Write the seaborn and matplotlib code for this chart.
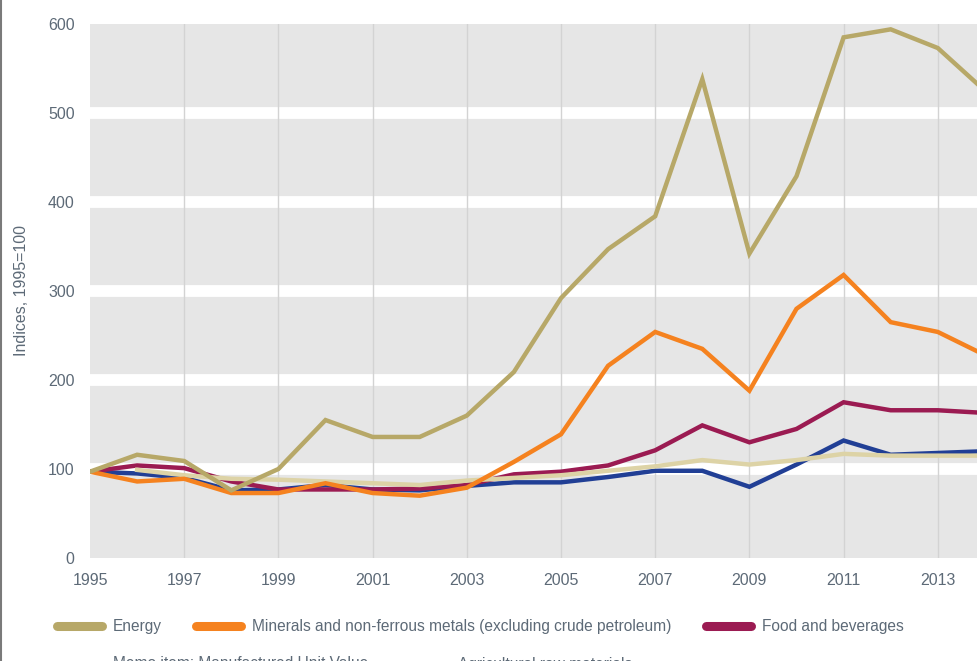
import numpy as np
import pandas as pd
import matplotlib
matplotlib.use("Agg")
import matplotlib.pyplot as plt
from matplotlib.lines import Line2D
import seaborn as sns

# Data (indices, 1995=100)
years = list(range(1995, 2015))
energy = [97, 116, 109, 76, 100, 155, 136, 136, 160, 209, 292, 347, 384, 538, 342, 429, 585, 594, 573, 525]
minerals = [97, 86, 89, 73, 73, 84, 73, 70, 79, 108, 139, 216, 254, 235, 188, 280, 318, 265, 254, 228]
food = [97, 104, 101, 86, 77, 77, 77, 78, 82, 94, 97, 104, 121, 149, 130, 145, 175, 166, 166, 163]
years_memo = list(range(1996, 2015))
memo = [99, 93, 89, 88, 86, 84, 82, 87, 90, 93, 98, 103, 110, 105, 110, 117, 115, 115, 115]
agri = [97, 95, 90, 76, 77, 82, 77, 76, 81, 85, 85, 91, 98, 98, 80, 105, 132, 116, 118, 120]

labels = ["Energy",
          "Minerals and non-ferrous metals (excluding crude petroleum)",
          "Food and beverages",
          "Memo item: Manufactured Unit Value",
          "Agricultural raw materials"]
colors = ["#b7a868", "#f5821f", "#9b1b52", "#ddd3a6", "#213f95"]

txt = "#5d6a77"
plt.rcParams["font.family"] = ["Liberation Sans", "DejaVu Sans"]

fig = plt.figure(figsize=(9.77, 6.61), dpi=100)
ax = fig.add_axes([90 / 977, 103 / 661, 887 / 977, 534 / 661])
ax.set_facecolor("#e6e6e6")

# thick white horizontal bands, thin vertical grid lines
for v in [100, 200, 300, 400, 500]:
    ax.axhline(v, color="white", lw=8.5, zorder=1)
for yr in range(1997, 2014, 2):
    ax.axvline(yr, color="#d3d3d3", lw=1, zorder=1.5)

series = [
    (years, agri, 4, 2),
    (years, food, 2, 3),
    (years_memo, memo, 3, 4),
    (years, minerals, 1, 5),
    (years, energy, 0, 6),
]
for xs, ys, idx, z in series:
    df = pd.DataFrame({"year": xs, "value": ys})
    sns.lineplot(data=df, x="year", y="value", ax=ax, color=colors[idx],
                 lw=3.2, zorder=z, solid_joinstyle="miter")

ax.set_xlim(1995, 1995 + 887 / 47.1)
ax.set_ylim(0, 600)
ax.set_xticks(range(1995, 2014, 2))
ax.set_yticks(range(0, 601, 100))
ax.tick_params(length=0, labelsize=11.5, labelcolor=txt)
ax.tick_params(axis="y", pad=11)
ax.tick_params(axis="x", pad=11)
ax.set_xlabel("")
ax.set_ylabel("Indices, 1995=100", fontsize=11.5, color=txt, labelpad=14)
for s in ax.spines.values():
    s.set_visible(False)

def handle(c):
    return Line2D([0], [0], color=c, lw=6.5, solid_capstyle="round")

leg_kw = dict(frameon=False, fontsize=11.2, labelcolor=txt, handlelength=2.9,
              handletextpad=0.7, columnspacing=2.2, borderaxespad=0, borderpad=0)
leg1 = fig.legend([handle(c) for c in colors[:3]], labels[:3], ncol=3,
                  loc="center left", bbox_to_anchor=(57 / 977, 1 - 627 / 661), **leg_kw)
leg2 = fig.legend([handle(c) for c in colors[3:]], labels[3:], ncol=2,
                  loc="center left", bbox_to_anchor=(57 / 977, 1 - 664 / 661), **leg_kw)

# thin frame on the left edge
fig.add_artist(Line2D([0.0015, 0.0015], [0, 1], color="#7a7a7a", lw=1.5))

fig.savefig("out.png", dpi=100)
